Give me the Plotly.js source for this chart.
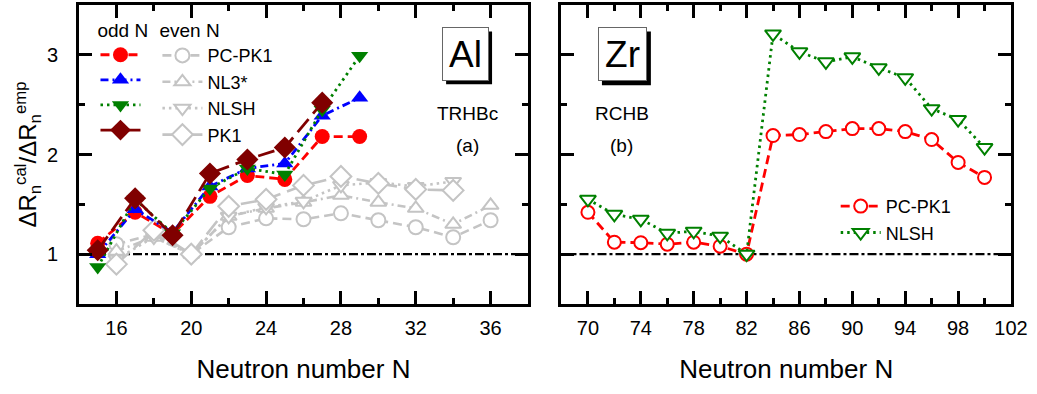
<!DOCTYPE html>
<html>
<head>
<meta charset="utf-8">
<script src="https://cdn.plot.ly/plotly-3.0.1.min.js"></script>
<style>html,body{margin:0;padding:0;background:#fff;}#chart{width:1037px;height:394px;}</style>
</head>
<body>
<div id="chart"></div>
<script>
// ---------- data ----------
const N_odd = [15, 17, 19, 21, 23, 25, 27, 29];
const N_odd_pk1 = [15, 17, 19, 21, 23, 25, 27];
const N_even = [16, 18, 20, 22, 24, 26, 28, 30, 32, 34, 36];
const N_even_short = [16, 18, 20, 22, 24, 26, 28, 30, 32, 34];

const pcpk1_odd = [1.11, 1.42, 1.20, 1.58, 1.79, 1.75, 2.18, 2.18];
const nl3s_odd  = [1.00, 1.45, 1.22, 1.68, 1.86, 1.91, 2.39, 2.57];
const nlsh_odd  = [0.87, 1.55, 1.21, 1.66, 1.86, 1.80, 2.45, 2.99];
const pk1_odd   = [1.04, 1.56, 1.19, 1.81, 1.95, 2.07, 2.52];

const pcpk1_even = [1.10, 1.20, 1.00, 1.27, 1.36, 1.35, 1.41, 1.34, 1.27, 1.17, 1.34];
const nl3s_even  = [1.03, 1.17, 1.00, 1.38, 1.46, 1.52, 1.59, 1.52, 1.46, 1.30, 1.49];
const nlsh_even  = [0.95, 1.17, 1.00, 1.38, 1.47, 1.53, 1.69, 1.72, 1.68, 1.73];
const pk1_even   = [0.90, 1.24, 1.00, 1.48, 1.55, 1.69, 1.78, 1.71, 1.65, 1.64];

const N_zr = [70, 72, 74, 76, 78, 80, 82, 84, 86, 88, 90, 92, 94, 96, 98, 100];
const pcpk1_zr = [1.42, 1.12, 1.115, 1.10, 1.12, 1.08, 1.00, 2.19, 2.20, 2.23, 2.26, 2.26, 2.23, 2.15, 1.92, 1.77];
const nlsh_zr  = [1.55, 1.40, 1.35, 1.21, 1.23, 1.18, 1.00, 3.21, 3.03, 2.93, 2.98, 2.87, 2.77, 2.46, 2.35, 2.07];

const modelNames = ['PC-PK1', 'NL3*', 'NLSH', 'PK1'];
const blankName = '\u00a0';
const refValue = 1;
const xTitle = 'Neutron number N';
const yTitle = '\u0394R<sub>n</sub><sup>cal</sup>/\u0394R<sub>n</sub><sup>emp</sup>';

// ---------- styles ----------
const FONT = 'Liberation Sans, Arial, Helvetica, sans-serif';
const RED = '#ff0000', BLUE = '#0000ff', GREEN = '#008000', DRED = '#800000', GRAY = '#c4c4c4';
const dashes = {pc: '9px,5px', nl3: '8px,4px,2px,4px', nlsh: '2.5px,4px', pk1: '17px,7px'};

function odd(x, y, name, color, sym, size, dash) {
  return {x: x, y: y, xaxis: 'x', yaxis: 'y', type: 'scatter', mode: 'lines+markers',
    name: name, legend: 'legend', showlegend: true,
    line: {color: color, width: 2.8, dash: dash},
    marker: {symbol: sym, size: size, color: color, line: {width: 0}}};
}
function even(x, y, name, sym, size, dash) {
  return {x: x, y: y, xaxis: 'x', yaxis: 'y', type: 'scatter', mode: 'lines+markers',
    name: name, legend: 'legend2', showlegend: true,
    line: {color: GRAY, width: 2.6, dash: dash},
    marker: {symbol: sym, size: size, color: '#ffffff', line: {width: 2, color: GRAY}}};
}

const traces = [
  even(N_even, pcpk1_even, modelNames[0], 'circle', 14, dashes.pc),
  even(N_even, nl3s_even, modelNames[1], 'triangle-up', 14, dashes.nl3),
  even(N_even_short, nlsh_even, modelNames[2], 'triangle-down', 14, dashes.nlsh),
  even(N_even_short, pk1_even, modelNames[3], 'diamond', 16, dashes.pk1),
  odd(N_odd, pcpk1_odd, blankName, RED, 'circle', 15, dashes.pc),
  odd(N_odd, nl3s_odd, blankName, BLUE, 'triangle-up', 15, dashes.nl3),
  odd(N_odd, nlsh_odd, blankName, GREEN, 'triangle-down', 15, dashes.nlsh),
  odd(N_odd_pk1, pk1_odd, blankName, DRED, 'diamond', 17, dashes.pk1),
  {x: N_zr, y: pcpk1_zr, xaxis: 'x2', yaxis: 'y2', type: 'scatter', mode: 'lines+markers',
    name: modelNames[0], legend: 'legend3',
    line: {color: RED, width: 2.8, dash: dashes.pc},
    marker: {symbol: 'circle', size: 13, color: '#ffffff', line: {width: 2, color: RED}}},
  {x: N_zr, y: nlsh_zr, xaxis: 'x2', yaxis: 'y2', type: 'scatter', mode: 'lines+markers',
    name: modelNames[2], legend: 'legend3',
    line: {color: GREEN, width: 2.8, dash: dashes.nlsh},
    marker: {symbol: 'triangle-down', size: 14, color: '#ffffff', line: {width: 2, color: GREEN}}}
];

// ---------- layout ----------
const M = {l: 78.5, r: 25.5, t: 4.5, b: 89.5};
const W = 1037, H = 394;
const PW = W - M.l - M.r, PH = H - M.t - M.b;
const px = v => (v - M.l) / PW;      // helper: figure px -> paper x
const py = v => 1 - (v - M.t) / PH;  // helper: figure px -> paper y

function xax(domain, range, tick0) {
  return {domain: domain, range: range, tickmode: 'linear', tick0: tick0, dtick: 4,
    ticks: 'inside', ticklen: 13, tickwidth: 3, tickcolor: '#000',
    minor: {dtick: 2, ticks: 'inside', ticklen: 6, tickwidth: 3, tickcolor: '#000'},
    showline: true, linewidth: 3, linecolor: '#000', mirror: 'allticks',
    showgrid: false, zeroline: false, automargin: false,
    tickfont: {family: FONT, size: 20, color: '#000'}, ticklabelstandoff: 4,
    title: {text: xTitle, font: {family: FONT, size: 26, color: '#000'}, standoff: 22}};
}
function yax(anchor, labels) {
  return {anchor: anchor, domain: [0, 1], range: [0.5, 3.5], tickmode: 'linear', tick0: 0, dtick: 1,
    ticks: 'inside', ticklen: 13, tickwidth: 3, tickcolor: '#000',
    minor: {dtick: 0.5, ticks: 'inside', ticklen: 6, tickwidth: 3, tickcolor: '#000'},
    showline: true, linewidth: 3, linecolor: '#000', mirror: 'allticks',
    showgrid: false, zeroline: false, automargin: false, showticklabels: labels,
    tickfont: {family: FONT, size: 20, color: '#000'}, ticklabelstandoff: 14};
}

const y1 = yax('x', true);
y1.title = {text: yTitle, font: {family: FONT, size: 24, color: '#000'}, standoff: 4};

function ann(text, x, y, size, extra) {
  return Object.assign({xref: 'paper', yref: 'paper', x: px(x), y: py(y), text: text,
    showarrow: false, xanchor: 'center', yanchor: 'middle',
    font: {family: FONT, size: size, color: '#000'}}, extra || {});
}
function shadow(x0, y0, x1, y1) {
  return {type: 'rect', xref: 'paper', yref: 'paper', x0: px(x0), x1: px(x1), y0: py(y1), y1: py(y0),
    fillcolor: '#000', line: {width: 0}, layer: 'above'};
}

const layout = {
  width: W, height: H, margin: M,
  paper_bgcolor: '#fff', plot_bgcolor: '#fff',
  font: {family: FONT, color: '#000'},
  xaxis: xax([0, px(528)], [14, 38], 16),
  yaxis: y1,
  xaxis2: Object.assign(xax([px(561.5), 1], [68, 102], 70), {anchor: 'y2'}),
  yaxis2: yax('x2', false),
  legend: {x: px(95), y: py(12), xanchor: 'left', yanchor: 'top', bgcolor: 'rgba(0,0,0,0)',
    borderwidth: 0, itemwidth: 40, tracegroupgap: 0, traceorder: 'normal',
    font: {family: FONT, size: 17, color: '#000'},
    title: {text: 'odd N', side: 'top', font: {family: FONT, size: 19, color: '#000'}}},
  legend2: {x: px(157), y: py(12), xanchor: 'left', yanchor: 'top', bgcolor: 'rgba(0,0,0,0)',
    borderwidth: 0, itemwidth: 40, tracegroupgap: 0, traceorder: 'normal',
    font: {family: FONT, size: 18, color: '#000'},
    title: {text: 'even N', side: 'top', font: {family: FONT, size: 19, color: '#000'}}},
  legend3: {x: px(836), y: py(188), xanchor: 'left', yanchor: 'top', bgcolor: 'rgba(0,0,0,0)',
    borderwidth: 0, itemwidth: 40, traceorder: 'normal',
    font: {family: FONT, size: 18, color: '#000'}},
  shapes: [
    {type: 'line', xref: 'x domain', yref: 'y', x0: 0, x1: 1, y0: refValue, y1: refValue,
      layer: 'below', line: {color: '#000', width: 2.2, dash: '9px,3px,3px,3px'}},
    {type: 'line', xref: 'x2 domain', yref: 'y2', x0: 0, x1: 1, y0: refValue, y1: refValue,
      layer: 'below', line: {color: '#000', width: 2.2, dash: '9px,3px,3px,3px'}},
    shadow(446, 31, 492, 84),
    shadow(602, 31, 651, 85)
  ],
  annotations: [
    ann('Al', 465, 53.5, 37, {width: 45, height: 52, bgcolor: '#fff', bordercolor: '#666', borderwidth: 1, borderpad: 0}),
    ann('TRHBc', 467, 113, 19),
    ann('(a)', 467, 145, 19),
    ann('Zr', 622.5, 54, 37, {width: 47, height: 52, bgcolor: '#fff', bordercolor: '#666', borderwidth: 1, borderpad: 0}),
    ann('RCHB', 622, 113, 19),
    ann('(b)', 622, 145, 19)
  ]
};

Plotly.newPlot('chart', traces, layout, {displayModeBar: false, staticPlot: true});
</script>
</body>
</html>
